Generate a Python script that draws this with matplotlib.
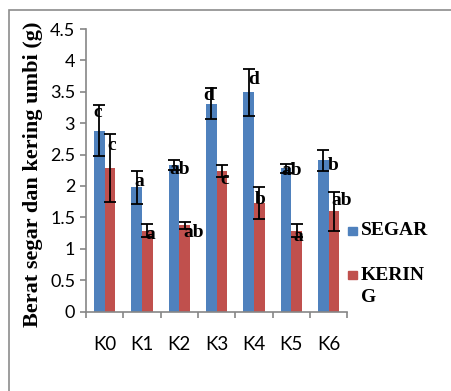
import matplotlib.pyplot as plt
import numpy as np
from matplotlib.patches import Rectangle

# data
perlakuan = ['K0', 'K1', 'K2', 'K3', 'K4', 'K5', 'K6']
segar = [2.88, 1.98, 2.34, 3.31, 3.49, 2.28, 2.41]
segar_err = [0.41, 0.26, 0.08, 0.25, 0.38, 0.07, 0.17]
kering = [2.28, 1.29, 1.37, 2.24, 1.73, 1.29, 1.60]
kering_err = [0.54, 0.11, 0.05, 0.10, 0.25, 0.10, 0.31]
notasi_segar = ['c', 'a', 'ab', 'd', 'd', 'ab', 'b']
notasi_kering = ['c', 'a', 'ab', 'c', 'b', 'a', 'ab']

# label offsets (pixels, dx right / dy up) from bar top centre
off_segar = [(-2, 18), (3, 6), (6, -5), (-3, 8), (5, 13), (6, -2), (10, -5)]
off_kering = [(2, 23), (3, -4), (9, -7), (3, -9), (1, 3), (2, -6), (8, 11)]

W, H = 452, 391
fig = plt.figure(figsize=(W / 100, H / 100), dpi=100)

def fx(px):
    return px / W

def fy(py):
    return 1 - py / H

# outer frame
fig.patches.append(Rectangle((fx(8.5), fy(500)), fx(460), fy(10) - fy(500),
                             transform=fig.transFigure, fill=False,
                             edgecolor='#8c8c8c', linewidth=1.2))

ax = fig.add_axes([fx(86), fy(311.5), fx(347.3) - fx(86), fy(29) - fy(311.5)])

blue, red = '#4F81BD', '#C0504D'
x = np.arange(len(perlakuan))
w = 0.286
ekw = dict(ecolor='black', elinewidth=1.3, capsize=4.3, capthick=1.3)
ax.bar(x - w / 2, segar, w, color=blue, yerr=segar_err, error_kw=ekw, zorder=2)
ax.bar(x + w / 2, kering, w, color=red, yerr=kering_err, error_kw=ekw, zorder=2)

lab_font = dict(family='Liberation Serif', weight='bold', size=14)
for i in range(len(x)):
    ax.annotate(notasi_segar[i], (x[i] - w / 2, segar[i]),
                xytext=(off_segar[i][0] * 0.72, off_segar[i][1] * 0.72),
                textcoords='offset points', ha='center', va='center', **lab_font)
    ax.annotate(notasi_kering[i], (x[i] + w / 2, kering[i]),
                xytext=(off_kering[i][0] * 0.72, off_kering[i][1] * 0.72),
                textcoords='offset points', ha='center', va='center', **lab_font)

ax.set_xlim(-0.5, len(x) - 0.5)
ax.set_ylim(0, 4.5)
yt = np.arange(0, 4.51, 0.5)
ax.set_yticks(yt)
ax.set_yticklabels(['%g' % v for v in yt])
ax.set_xticks(x)
ax.set_xticklabels(perlakuan)
ax.set_xticks(np.arange(-0.5, len(x)), minor=True)

for s in ['top', 'right']:
    ax.spines[s].set_visible(False)
for s in ['left', 'bottom']:
    ax.spines[s].set_color('#868686')
    ax.spines[s].set_linewidth(1.2)

ax.tick_params(axis='y', length=4.3, width=1.2, color='#868686', pad=3.5,
               labelsize=13, labelfontfamily='Lato')
ax.tick_params(axis='x', which='major', length=0, pad=18,
               labelsize=13.5, labelfontfamily='Lato')
ax.tick_params(axis='x', which='minor', length=4.3, width=1.2, color='#868686')

fig.text(fx(33), fy(174.5), 'Berat segar dan kering umbi (g)', rotation=90,
         ha='center', va='center', family='Liberation Serif', weight='bold',
         size=16)

# legend
fig.patches.append(Rectangle((fx(348), fy(235)), fx(9), fy(227) - fy(235),
                             transform=fig.transFigure, color=blue))
fig.patches.append(Rectangle((fx(348), fy(279)), fx(9), fy(271) - fy(279),
                             transform=fig.transFigure, color=red))
fig.text(fx(361), fy(230.5), 'SEGAR', ha='left', va='center', **lab_font)
fig.text(fx(361), fy(275), 'KERIN', ha='left', va='center', **lab_font)
fig.text(fx(361), fy(298), 'G', ha='left', va='center', **lab_font)

fig.savefig('out.png', dpi=100)
